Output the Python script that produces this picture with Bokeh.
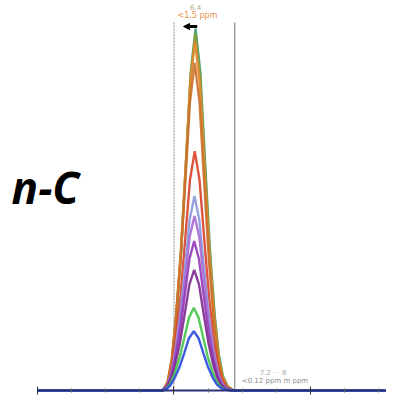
from bokeh.plotting import figure
from bokeh.models import Range1d, LinearAxis, FixedTicker, Label, Arrow, NormalHead
from bokeh.embed import file_html
from bokeh.resources import INLINE

# ---- data ----
series_names = ["s1", "s2", "s3", "s4", "s5", "s6", "s7", "s8", "s9", "s10", "s11"]
series_heights = [100.5, 99.0, 97.0, 91.0, 66.5, 54.0, 48.5, 41.5, 33.5, 23.0, 16.5]
series_centers = [0.842, 0.844, 0.846, 0.848, 0.848, 0.850, 0.850, 0.852, 0.852, 0.855, 0.855]
series_colors = ["#3c9a6c", "#8d9b36", "#e68a2e", "#c9702c", "#d8402a", "#8c98e0",
                 "#a66ad4", "#9238b6", "#7d2a8e", "#44c24a", "#2a48e0"]

# common peak profile: ppm offsets (positive = downfield/left) and relative intensity
profile_offsets = [0.235, 0.2, 0.17, 0.14, 0.105, 0.07, 0.035, 0.0,
                   -0.035, -0.07, -0.105, -0.14, -0.17, -0.2, -0.235, -0.28]
profile_values = [0.0, 0.025, 0.09, 0.21, 0.39, 0.63, 0.88, 1.0,
                  0.88, 0.63, 0.39, 0.21, 0.1, 0.04, 0.012, 0.0]

baseline_start = 2.0
baseline_end = -0.55

major_ticks = [2.0, 1.0, 0.0]
minor_ticks = [1.75, 1.5, 1.25, 0.75, 0.5, 0.25, -0.25, -0.5]

region_left = 1.0
region_right = 0.555
region_top = 102.2

top_label_1 = "6.4"
top_label_2 = "<1.5 ppm"
bottom_label_1 = "7.2  ·  ·  8"
bottom_label_2 = "<0.12 ppm m ppm"
big_label = "n-C"

# ---- figure ----
p = figure(width=405, height=396, output_backend="svg", toolbar_location=None,
           x_axis_type=None, y_axis_type=None, min_border=0,
           x_range=Range1d(2.271, -0.696), y_range=Range1d(-1.667, 108.33))
p.outline_line_color = None
p.xgrid.visible = False
p.ygrid.visible = False
p.background_fill_color = "white"

# region lines
p.segment(x0=[region_left], y0=[0], x1=[region_left], y1=[region_top],
          line_color="#a0a0a0", line_width=1.2, line_dash="2 1")
p.segment(x0=[region_right], y0=[0], x1=[region_right], y1=[region_top],
          line_color="#8c8c8c", line_width=1.2)

# spectra
for name, h, c, col in zip(series_names, series_heights, series_centers, series_colors):
    xs = [baseline_start] + [c + o for o in profile_offsets] + [baseline_end]
    ys = [0.0] + [h * v for v in profile_values] + [0.0]
    p.line(xs, ys, line_color=col, line_width=2.4, line_alpha=0.9)

# axis at y = 0
ax = LinearAxis(fixed_location=0, bounds=(baseline_end, baseline_start))
ax.ticker = FixedTicker(ticks=major_ticks, minor_ticks=minor_ticks)
ax.axis_line_color = "#2c2f78"
ax.axis_line_width = 2
ax.major_tick_line_color = "#333333"
ax.major_tick_in = 4
ax.major_tick_out = 4
ax.minor_tick_line_color = "#666666"
ax.minor_tick_in = 2
ax.minor_tick_out = 2
ax.major_label_overrides = {t: "" for t in major_ticks}
p.add_layout(ax, "below")

# annotations
p.add_layout(Label(x=0.842, y=105.6, text=top_label_1, text_font_size="7px",
                   text_color="#b8a890", text_align="center", text_font="DejaVu Sans"))
p.add_layout(Label(x=0.828, y=102.8, text=top_label_2, text_font_size="8px",
                   text_color="#e8944a", text_align="center", text_font="DejaVu Sans"))
p.add_layout(Arrow(end=NormalHead(size=6, fill_color="black", line_color="black"),
                   x_start=0.83, y_start=101.1, x_end=0.93, y_end=101.1,
                   line_color="black", line_width=3))
p.add_layout(Label(x=0.25, y=3.8, text=bottom_label_1, text_font_size="7px",
                   text_color="#a0a8a0", text_align="center", text_font="DejaVu Sans"))
p.add_layout(Label(x=0.26, y=1.6, text=bottom_label_2, text_font_size="7px",
                   text_color="#8a9088", text_align="center", text_font="DejaVu Sans"))
p.add_layout(Label(x=2.19, y=48.3, text=big_label, text_font_size="44px",
                   text_font_style="bold italic", text_color="black",
                   text_font="Open Sans"))

open("out.html", "w").write(file_html(p, INLINE))
